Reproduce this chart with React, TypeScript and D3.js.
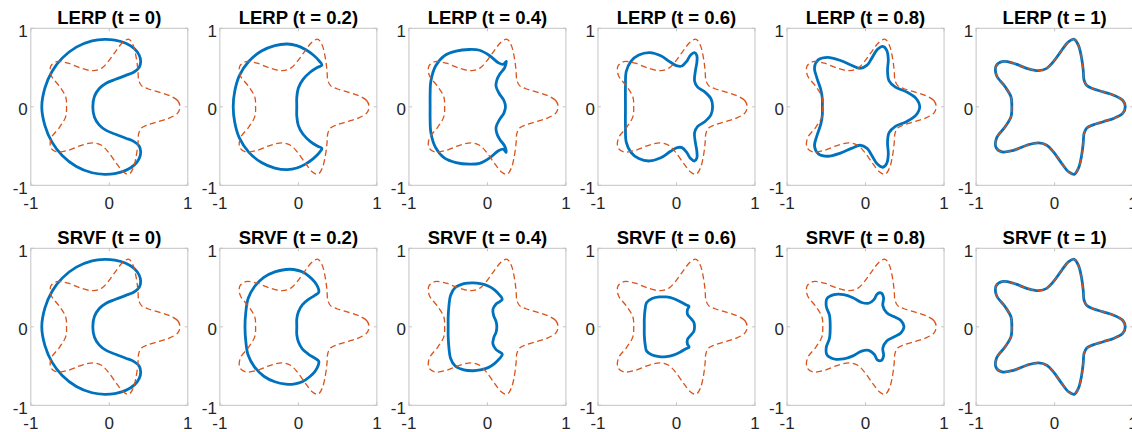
import React from "react";
import * as d3 from "d3";

// ---- data ----
const methods = ["LERP", "SRVF"];
const tLabels = ["0", "0.2", "0.4", "0.6", "0.8", "1"];
const tickValues = [-1, 0, 1];

const starShape: [number, number][] = [
  [0.900, 0.000], [0.870, 0.080], [0.760, 0.145], [0.620, 0.190], [0.490, 0.230], [0.410, 0.270],
  [0.375, 0.340], [0.365, 0.460], [0.345, 0.615], [0.305, 0.780], [0.250, 0.860], [0.180, 0.830],
  [0.090, 0.720], [-0.015, 0.575], [-0.100, 0.490], [-0.205, 0.460], [-0.355, 0.490], [-0.525, 0.555],
  [-0.670, 0.575], [-0.745, 0.520], [-0.740, 0.400], [-0.630, 0.255], [-0.555, 0.125], [-0.545, 0.000],
  [-0.555, -0.125], [-0.630, -0.255], [-0.740, -0.400], [-0.745, -0.520], [-0.670, -0.575], [-0.525, -0.555],
  [-0.355, -0.490], [-0.205, -0.460], [-0.100, -0.490], [-0.015, -0.575], [0.090, -0.720], [0.180, -0.830],
  [0.250, -0.860], [0.305, -0.780], [0.345, -0.615], [0.365, -0.460], [0.375, -0.340], [0.410, -0.270],
  [0.490, -0.230], [0.620, -0.190], [0.760, -0.145], [0.870, -0.080],
];

const crescentShape: [number, number][] = [
  [-0.21, 0.00], [-0.19, 0.13], [-0.13, 0.23], [-0.04, 0.30], [0.08, 0.35], [0.21, 0.40], [0.31, 0.44],
  [0.38, 0.50], [0.40, 0.58], [0.38, 0.66], [0.32, 0.74], [0.21, 0.81], [0.07, 0.85], [-0.06, 0.86],
  [-0.22, 0.84], [-0.42, 0.76], [-0.60, 0.62], [-0.73, 0.45], [-0.82, 0.24], [-0.86, 0.00],
  [-0.82, -0.24], [-0.73, -0.45], [-0.60, -0.62], [-0.42, -0.76], [-0.22, -0.84], [-0.06, -0.86],
  [0.07, -0.85], [0.21, -0.81], [0.32, -0.74], [0.38, -0.66], [0.40, -0.58], [0.38, -0.50], [0.31, -0.44],
  [0.21, -0.40], [0.08, -0.35], [-0.04, -0.30], [-0.13, -0.23], [-0.19, -0.13],
];

const lerp02: [number, number][] = [
  [-0.02, 0.00], [-0.02, 0.12], [0.00, 0.24], [0.06, 0.35], [0.15, 0.44], [0.24, 0.50], [0.30, 0.53],
  [0.27, 0.58], [0.19, 0.66], [0.09, 0.73], [-0.02, 0.78], [-0.14, 0.80], [-0.30, 0.78], [-0.47, 0.71],
  [-0.63, 0.58], [-0.75, 0.40], [-0.81, 0.20], [-0.83, 0.00],
  [-0.81, -0.20], [-0.75, -0.40], [-0.63, -0.58], [-0.47, -0.71], [-0.30, -0.78], [-0.14, -0.80],
  [-0.02, -0.78], [0.09, -0.73], [0.19, -0.66], [0.27, -0.58], [0.30, -0.53], [0.24, -0.50], [0.15, -0.44],
  [0.06, -0.35], [0.00, -0.24], [-0.02, -0.12],
];

const lerp04: [number, number][] = [
  [0.23, 0.00], [0.21, 0.08], [0.15, 0.17], [0.11, 0.26], [0.12, 0.34], [0.16, 0.42], [0.22, 0.50],
  [0.24, 0.58], [0.20, 0.54], [0.14, 0.56], [0.03, 0.65], [-0.10, 0.72], [-0.23, 0.73], [-0.40, 0.71],
  [-0.55, 0.65], [-0.66, 0.52], [-0.72, 0.33], [-0.73, 0.15], [-0.73, 0.00],
  [-0.73, -0.15], [-0.72, -0.33], [-0.66, -0.52], [-0.55, -0.65], [-0.40, -0.71], [-0.23, -0.73],
  [-0.10, -0.72], [0.03, -0.65], [0.14, -0.56], [0.20, -0.54], [0.24, -0.58], [0.22, -0.50], [0.16, -0.42],
  [0.12, -0.34], [0.11, -0.26], [0.15, -0.17], [0.21, -0.08],
];

const lerp06: [number, number][] = [
  [0.46, 0.00], [0.44, 0.10], [0.36, 0.19], [0.27, 0.25], [0.23, 0.33], [0.24, 0.45], [0.26, 0.57],
  [0.26, 0.65], [0.23, 0.69], [0.18, 0.66], [0.13, 0.58], [0.07, 0.52], [0.01, 0.52], [-0.08, 0.57],
  [-0.20, 0.65], [-0.34, 0.69], [-0.48, 0.66], [-0.58, 0.58], [-0.64, 0.45], [-0.65, 0.25], [-0.65, 0.00],
  [-0.65, -0.25], [-0.64, -0.45], [-0.58, -0.58], [-0.48, -0.66], [-0.34, -0.69], [-0.20, -0.65],
  [-0.08, -0.57], [0.01, -0.52], [0.07, -0.52], [0.13, -0.58], [0.18, -0.66], [0.23, -0.69], [0.26, -0.65],
  [0.26, -0.57], [0.24, -0.45], [0.23, -0.33], [0.27, -0.25], [0.36, -0.19], [0.44, -0.10],
];

const lerp08: [number, number][] = [
  [0.69, 0.00], [0.64, 0.11], [0.52, 0.19], [0.38, 0.25], [0.30, 0.33], [0.28, 0.46], [0.29, 0.60],
  [0.27, 0.72], [0.22, 0.77], [0.15, 0.73], [0.08, 0.62], [0.02, 0.53], [-0.07, 0.49], [-0.18, 0.53],
  [-0.32, 0.59], [-0.48, 0.63], [-0.60, 0.60], [-0.65, 0.50], [-0.62, 0.37], [-0.57, 0.22], [-0.55, 0.10],
  [-0.55, 0.00],
  [-0.55, -0.10], [-0.57, -0.22], [-0.62, -0.37], [-0.65, -0.50], [-0.60, -0.60], [-0.48, -0.63],
  [-0.32, -0.59], [-0.18, -0.53], [-0.07, -0.49], [0.02, -0.53], [0.08, -0.62], [0.15, -0.73], [0.22, -0.77],
  [0.27, -0.72], [0.29, -0.60], [0.28, -0.46], [0.30, -0.33], [0.38, -0.25], [0.52, -0.19], [0.64, -0.11],
];

const srvf02: [number, number][] = [
  [-0.02, 0.00], [-0.02, 0.10], [0.00, 0.19], [0.05, 0.28], [0.13, 0.35], [0.21, 0.40], [0.26, 0.44],
  [0.25, 0.50], [0.21, 0.57], [0.14, 0.64], [0.05, 0.70], [-0.06, 0.73], [-0.16, 0.73], [-0.30, 0.70],
  [-0.44, 0.63], [-0.56, 0.51], [-0.64, 0.36], [-0.67, 0.18], [-0.68, 0.00],
  [-0.67, -0.18], [-0.64, -0.36], [-0.56, -0.51], [-0.44, -0.63], [-0.30, -0.70], [-0.16, -0.73],
  [-0.06, -0.73], [0.05, -0.70], [0.14, -0.64], [0.21, -0.57], [0.25, -0.50], [0.26, -0.44], [0.21, -0.40],
  [0.13, -0.35], [0.05, -0.28], [0.00, -0.19], [-0.02, -0.10],
];

const srvf04: [number, number][] = [
  [0.12, 0.00], [0.11, 0.07], [0.08, 0.14], [0.07, 0.22], [0.11, 0.29], [0.19, 0.35], [0.15, 0.41],
  [0.09, 0.47], [0.01, 0.52], [-0.09, 0.55], [-0.18, 0.56], [-0.30, 0.55], [-0.41, 0.50], [-0.47, 0.40],
  [-0.49, 0.27], [-0.50, 0.12], [-0.50, 0.00],
  [-0.50, -0.12], [-0.49, -0.27], [-0.47, -0.40], [-0.41, -0.50], [-0.30, -0.55], [-0.18, -0.56],
  [-0.09, -0.55], [0.01, -0.52], [0.09, -0.47], [0.15, -0.41], [0.19, -0.35], [0.11, -0.29], [0.07, -0.22],
  [0.08, -0.14], [0.11, -0.07],
];

const srvf06: [number, number][] = [
  [0.23, 0.00], [0.22, 0.06], [0.18, 0.11], [0.14, 0.16], [0.14, 0.22], [0.16, 0.26], [0.12, 0.28],
  [0.05, 0.32], [-0.04, 0.36], [-0.13, 0.38], [-0.22, 0.38], [-0.31, 0.36], [-0.38, 0.31], [-0.40, 0.22],
  [-0.41, 0.10], [-0.41, 0.00],
  [-0.41, -0.10], [-0.40, -0.22], [-0.38, -0.31], [-0.31, -0.36], [-0.22, -0.38], [-0.13, -0.38],
  [-0.04, -0.36], [0.05, -0.32], [0.12, -0.28], [0.16, -0.26], [0.14, -0.22], [0.14, -0.16], [0.18, -0.11],
  [0.22, -0.06],
];

const srvf08: [number, number][] = [
  [0.49, 0.00], [0.45, 0.08], [0.36, 0.13], [0.27, 0.18], [0.22, 0.27], [0.23, 0.37], [0.20, 0.43],
  [0.15, 0.42], [0.11, 0.35], [0.04, 0.30], [-0.05, 0.31], [-0.16, 0.37], [-0.28, 0.41], [-0.40, 0.41],
  [-0.49, 0.36], [-0.50, 0.26], [-0.46, 0.15], [-0.45, 0.00],
  [-0.46, -0.15], [-0.50, -0.26], [-0.49, -0.36], [-0.40, -0.41], [-0.28, -0.41], [-0.16, -0.37],
  [-0.05, -0.31], [0.04, -0.30], [0.11, -0.35], [0.15, -0.42], [0.20, -0.43], [0.23, -0.37], [0.22, -0.27],
  [0.27, -0.18], [0.36, -0.13], [0.45, -0.08],
];

const lerpShapes = [crescentShape, lerp02, lerp04, lerp06, lerp08, starShape];
const srvfShapes = [crescentShape, srvf02, srvf04, srvf06, srvf08, starShape];
const shapesByMethod = [lerpShapes, srvfShapes];

// ---- layout ----
const W = 1132;
const H = 432;
const panelSize = 157;
const panelLeft0 = 30.8;
const panelStep = 189.06;
const rowTops = [28.3, 248.3];
const blue = "#0072BD";
const orange = "#D95319";
const font = "'Liberation Sans', Arial, Helvetica, sans-serif";

function Panel({ left, top, shape, title }: { left: number; top: number; shape: [number, number][]; title: string }) {
  const x = d3.scaleLinear().domain([-1, 1]).range([left, left + panelSize]);
  const y = d3.scaleLinear().domain([-1, 1]).range([top + panelSize, top]);
  const line = d3
    .line<[number, number]>()
    .x((d) => x(d[0]))
    .y((d) => y(d[1]))
    .curve(d3.curveCatmullRomClosed.alpha(0.5));
  const tl = 3;
  return (
    <g>
      <rect x={left} y={top} width={panelSize} height={panelSize} fill="#fff" stroke="#c4c4c4" strokeWidth={1} />
      {tickValues.map((v) => (
        <g key={"t" + v} stroke="#c4c4c4" strokeWidth={1}>
          <line x1={x(v)} x2={x(v)} y1={top + panelSize} y2={top + panelSize - tl} />
          <line x1={x(v)} x2={x(v)} y1={top} y2={top + tl} />
          <line x1={left} x2={left + tl} y1={y(v)} y2={y(v)} />
          <line x1={left + panelSize} x2={left + panelSize - tl} y1={y(v)} y2={y(v)} />
        </g>
      ))}
      <path d={line(shape) || ""} fill="none" stroke={blue} strokeWidth={2.8} strokeLinejoin="round" />
      <path d={line(starShape) || ""} fill="none" stroke={orange} strokeWidth={1.3} strokeDasharray="6,3.5" />
      {tickValues.map((v) => (
        <text key={"xl" + v} x={x(v)} y={top + panelSize + 24} textAnchor="middle" fontFamily={font} fontSize={17} fill="#262626">
          {String(v)}
        </text>
      ))}
      {tickValues.map((v) => (
        <text key={"yl" + v} x={left - 3} y={y(v) + 8.4} textAnchor="end" fontFamily={font} fontSize={17} fill="#262626">
          {String(v)}
        </text>
      ))}
      <text x={left + panelSize / 2} y={top - 4.8} textAnchor="middle" fontFamily={font} fontSize={18.5} fontWeight="bold" fill="#000">
        {title}
      </text>
    </g>
  );
}

export default function App() {
  return (
    <svg width={W} height={H} style={{ position: "absolute", left: 0, top: 0, display: "block", background: "#fff" }}>
      <rect x={0} y={0} width={W} height={H} fill="#fff" />
      {methods.map((m, r) =>
        tLabels.map((t, c) => (
          <Panel
            key={m + t}
            left={panelLeft0 + c * panelStep}
            top={rowTops[r]}
            shape={shapesByMethod[r][c]}
            title={`${m} (t = ${t})`}
          />
        ))
      )}
    </svg>
  );
}
